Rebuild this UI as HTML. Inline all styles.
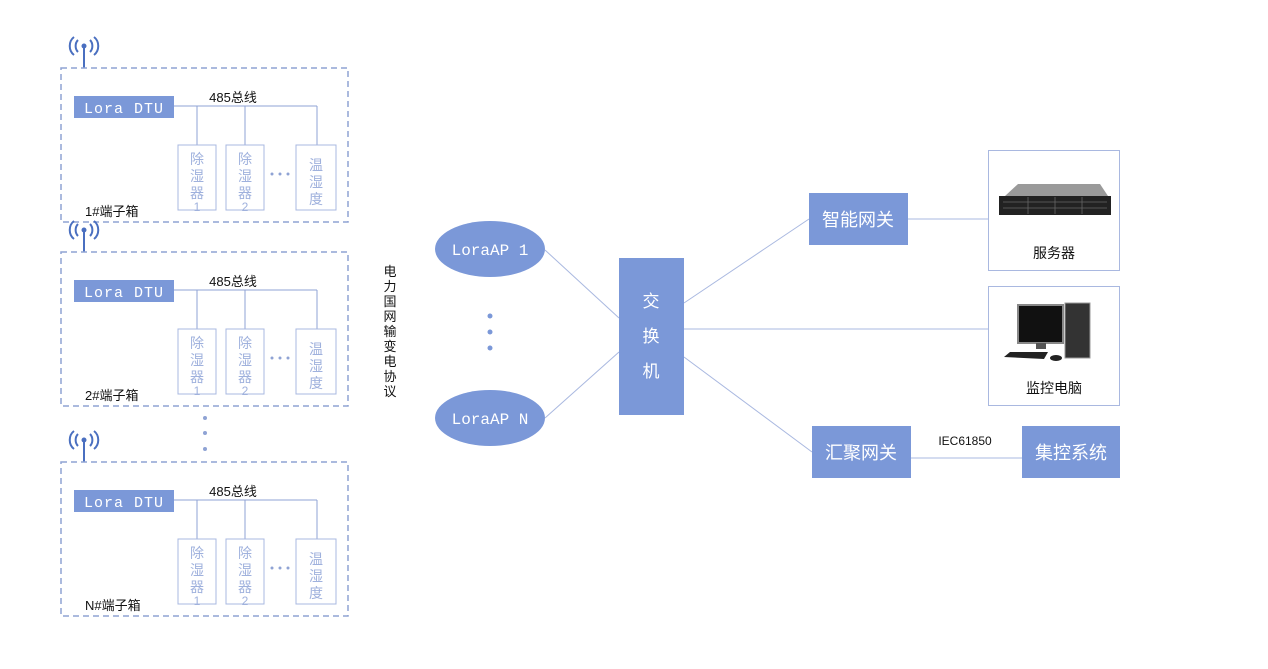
<!DOCTYPE html>
<html><head><meta charset="utf-8"><style>
html,body{margin:0;padding:0;background:#fff;}
svg{display:block;}
text{font-family:"Liberation Sans","Noto Sans CJK SC",sans-serif;}
.mono{font-family:"Liberation Mono","Noto Sans CJK SC",monospace;}
</style></head><body>
<svg width="1268" height="669" viewBox="0 0 1268 669" xmlns="http://www.w3.org/2000/svg">
<defs>
<g id="tb">
  <!-- antenna -->
  <path d="M78 40 a7 8 0 0 0 0 12 M74 37 a10 11 0 0 0 0 18 M90 40 a7 8 0 0 1 0 12 M94 37 a10 11 0 0 1 0 18" fill="none" stroke="#4a6fc0" stroke-width="2"/>
  <circle cx="84" cy="46" r="2.5" fill="#4a6fc0"/>
  <line x1="84" y1="46" x2="84" y2="68" stroke="#4a6fc0" stroke-width="2"/>
  <rect x="61" y="68" width="287" height="154" fill="none" stroke="#8fa3d4" stroke-width="1.5" stroke-dasharray="6,4"/>
  <rect x="74" y="96" width="100" height="22" fill="#7b98d8"/>
  <text x="124" y="113" text-anchor="middle" font-size="15" fill="#fff" class="mono" letter-spacing="1">Lora DTU</text>
  <text x="233" y="102" text-anchor="middle" font-size="13" fill="#111">485总线</text>
  <path d="M174 106 H317 M197 106 V145 M245 106 V145 M317 106 V145" stroke="#8fa3d4" fill="none"/>
  <rect x="178" y="145" width="38" height="65" fill="#fff" stroke="#a9b8e0"/>
  <rect x="226" y="145" width="38" height="65" fill="#fff" stroke="#a9b8e0"/>
  <rect x="296" y="145" width="40" height="65" fill="#fff" stroke="#a9b8e0"/>
  <g font-size="14" fill="#9fb1dd" text-anchor="middle">
    <text x="197" y="164">除</text><text x="197" y="181">湿</text><text x="197" y="198">器</text><text x="197" y="211" font-size="12">1</text>
    <text x="245" y="164">除</text><text x="245" y="181">湿</text><text x="245" y="198">器</text><text x="245" y="211" font-size="12">2</text>
    <text x="316" y="170">温</text><text x="316" y="187">湿</text><text x="316" y="204">度</text>
  </g>
  <g fill="#8fa3d4"><circle cx="272" cy="174" r="1.5"/><circle cx="280" cy="174" r="1.5"/><circle cx="288" cy="174" r="1.5"/></g>
</g>
</defs>
<use href="#tb"/>
<text x="85" y="216" font-size="13" fill="#111">1#端子箱</text>
<use href="#tb" y="184"/>
<text x="85" y="400" font-size="13" fill="#111">2#端子箱</text>
<use href="#tb" y="394"/>
<text x="85" y="610" font-size="13" fill="#111">N#端子箱</text>
<g fill="#8fa3d4"><circle cx="205" cy="418" r="2"/><circle cx="205" cy="433" r="2"/><circle cx="205" cy="449" r="2"/></g>

<g font-size="13" fill="#111" text-anchor="middle">
<text x="390" y="276">电</text><text x="390" y="291">力</text><text x="390" y="306">国</text><text x="390" y="321">网</text><text x="390" y="336">输</text><text x="390" y="351">变</text><text x="390" y="366">电</text><text x="390" y="381">协</text><text x="390" y="396">议</text>
</g>

<!-- lines -->
<g stroke="#a9b8e0" stroke-width="1" fill="none">
<line x1="545" y1="250" x2="619" y2="318"/>
<line x1="545" y1="418" x2="619" y2="352"/>
<line x1="684" y1="303" x2="809" y2="219"/>
<line x1="684" y1="329" x2="988" y2="329"/>
<line x1="684" y1="357" x2="812" y2="452"/>
<line x1="908" y1="219" x2="988" y2="219"/>
<line x1="911" y1="458" x2="1022" y2="458"/>
</g>

<ellipse cx="490" cy="249" rx="55" ry="28" fill="#7b98d8"/>
<text x="490" y="255" text-anchor="middle" font-size="16" fill="#fff" class="mono">LoraAP 1</text>
<ellipse cx="490" cy="418" rx="55" ry="28" fill="#7b98d8"/>
<text x="490" y="424" text-anchor="middle" font-size="16" fill="#fff" class="mono">LoraAP N</text>
<g fill="#7b98d8"><circle cx="490" cy="316" r="2.5"/><circle cx="490" cy="332" r="2.5"/><circle cx="490" cy="348" r="2.5"/></g>

<rect x="619" y="258" width="65" height="157" fill="#7b98d8"/>
<g font-size="17" fill="#fff" text-anchor="middle">
<text x="651" y="307">交</text><text x="651" y="342">换</text><text x="651" y="377">机</text>
</g>

<rect x="809" y="193" width="99" height="52" fill="#7b98d8"/>
<text x="858" y="226" text-anchor="middle" font-size="18" fill="#fff">智能网关</text>
<rect x="812" y="426" width="99" height="52" fill="#7b98d8"/>
<text x="861" y="459" text-anchor="middle" font-size="18" fill="#fff">汇聚网关</text>
<rect x="1022" y="426" width="98" height="52" fill="#7b98d8"/>
<text x="1071" y="459" text-anchor="middle" font-size="18" fill="#fff">集控系统</text>
<text x="965" y="445" text-anchor="middle" font-size="12" fill="#111">IEC61850</text>

<rect x="988.5" y="150.5" width="131" height="120" fill="#fff" stroke="#a9b8e0"/>
<polygon points="1005,196 1018,184 1100,184 1108,196" fill="#9a9a9a"/>
<rect x="999" y="196" width="112" height="19" fill="#222"/>
<g stroke="#666" stroke-width="0.8">
<line x1="1003" y1="202" x2="1107" y2="202"/><line x1="1003" y1="208" x2="1107" y2="208"/>
<line x1="1028" y1="197" x2="1028" y2="214"/><line x1="1055" y1="197" x2="1055" y2="214"/><line x1="1082" y1="197" x2="1082" y2="214"/>
</g>
<text x="1054" y="258" text-anchor="middle" font-size="14" fill="#111">服务器</text>

<rect x="988.5" y="286.5" width="131" height="119" fill="#fff" stroke="#a9b8e0"/>
<rect x="1018" y="305" width="45" height="38" fill="#111" stroke="#888" stroke-width="2"/>
<rect x="1036" y="343" width="10" height="6" fill="#555"/>
<rect x="1065" y="303" width="25" height="55" fill="#333" stroke="#999"/>
<polygon points="1004,357 1010,352 1048,352 1044,359" fill="#222"/>
<ellipse cx="1056" cy="358" rx="6" ry="3" fill="#222"/>
<text x="1054" y="393" text-anchor="middle" font-size="14" fill="#111">监控电脑</text>
</svg>
</body></html>
